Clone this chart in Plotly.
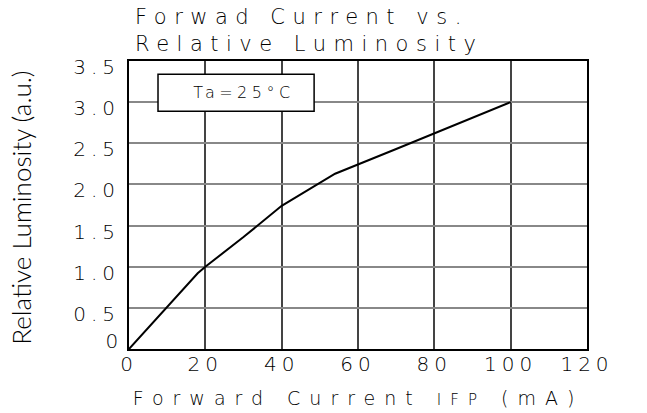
import plotly.graph_objects as go

# forward current (mA) vs relative luminosity (a.u.)
current = [0, 18, 20, 30, 40, 54, 70, 80, 100]
luminosity = [0, 0.92, 1.0, 1.36, 1.74, 2.13, 2.43, 2.62, 3.0]

x_ticks = [0, 20, 40, 60, 80, 100, 120]
y_ticks = [0.5, 1.0, 1.5, 2.0, 2.5, 3.0, 3.5]
y_tick_text = ["0.5", "1.0", "1.5", "2.0", "2.5", "3.0", "3.5"]

cad_font = "DejaVu Sans"
narrow_font = "Lato, Roboto"

fig = go.Figure()

fig.add_trace(go.Scatter(
    x=current,
    y=luminosity,
    mode="lines",
    line=dict(color="black", width=2),
    showlegend=False,
))

fig.update_layout(
    width=647,
    height=413,
    margin=dict(l=129, r=60, t=61, b=64),
    paper_bgcolor="white",
    plot_bgcolor="white",
    font=dict(family=cad_font, color="black"),
    annotations=[
        dict(
            text="Forwad Current vs.<br>Relative Luminosity",
            xref="paper", yref="paper", x=0.008, y=1.105,
            xanchor="left", yanchor="middle", align="left",
            showarrow=False, font=dict(size=21, family=cad_font, weight=200),
        ),
        dict(
            text="Ta=25°C",
            xref="x", yref="y", x=30, y=3.115,
            xanchor="center", yanchor="middle",
            showarrow=False, font=dict(size=16, family=cad_font, weight=200),
        ),
        dict(
            text="0",
            xref="paper", yref="y", x=0, y=0, xshift=-6, yshift=8,
            xanchor="right", yanchor="middle",
            showarrow=False, font=dict(size=20, family=cad_font, weight=200),
        ),
        dict(
            text="Relative Luminosity (a.u.)",
            xref="paper", yref="paper", x=-0.236, y=0.49,
            xanchor="center", yanchor="middle", textangle=-90,
            showarrow=False, font=dict(size=26, family=narrow_font, weight=300),
        ),
    ],
    shapes=[
        dict(
            type="rect", xref="x", yref="y",
            x0=7.6, x1=48.5, y0=2.89, y1=3.34,
            line=dict(color="black", width=1.5),
            fillcolor="white", layer="above",
        ),
    ],
)

fig.update_xaxes(
    range=[0, 120],
    tickvals=x_ticks,
    ticks="",
    showgrid=True,
    gridcolor="#444",
    gridwidth=1.5,
    showline=True,
    linecolor="black",
    linewidth=2,
    mirror=True,
    zeroline=False,
    automargin=False,
    tickfont=dict(size=20, family=cad_font, weight=200),
    ticklabelstandoff=-4,
    title=dict(
        text="Forward Current <span style='font-size:15px'>IFP</span> (mA)",
        font=dict(size=19, family=cad_font, weight=200),
        standoff=17,
    ),
)

fig.update_yaxes(
    range=[0, 3.5],
    tickvals=y_ticks,
    ticktext=y_tick_text,
    ticks="",
    showgrid=True,
    gridcolor="#888",
    gridwidth=1.5,
    showline=True,
    linecolor="black",
    linewidth=2,
    mirror=True,
    zeroline=False,
    automargin=False,
    tickfont=dict(size=20, family=cad_font, weight=200),
    ticklabelshift=6,
    ticklabelstandoff=3,
)

# the original uses a wide, widely spaced drafting font
spacing_js = """
document.body.style.margin = '0';
var gd = document.getElementsByClassName('plotly-graph-div')[0];
function spread(sel, px) {
  gd.querySelectorAll(sel).forEach(function (el) { el.style.letterSpacing = px; });
}
spread('.xtick text, .ytick text', '5px');
spread('.xtitle', '9px');
spread('.annotation[data-index="0"] text', '7.5px');
spread('.annotation[data-index="1"] text', '4.5px');
spread('.annotation[data-index="2"] text', '5px');
"""

fig.write_html("out.html", post_script=spacing_js, config={"displayModeBar": False})
